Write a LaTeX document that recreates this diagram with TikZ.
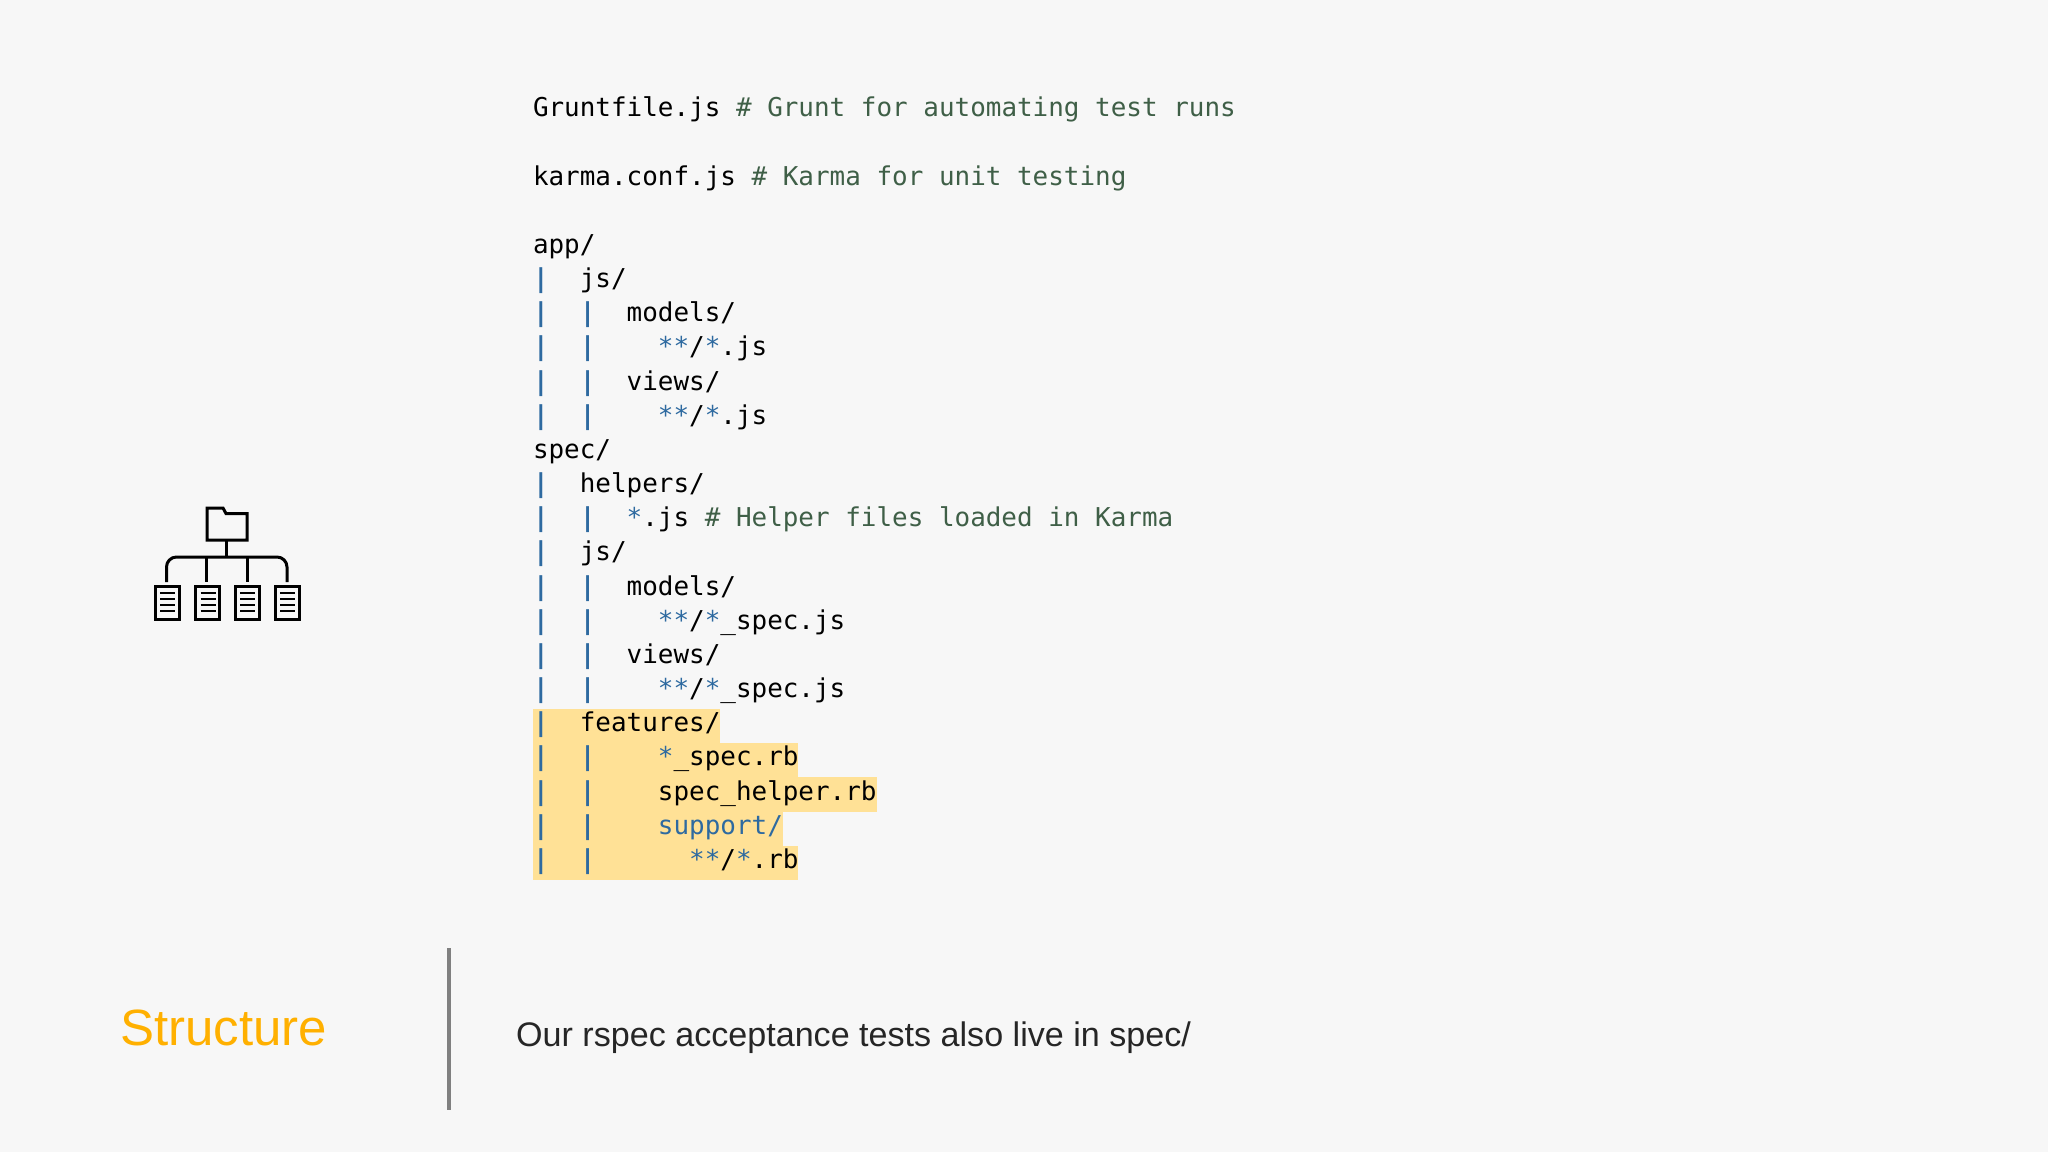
\documentclass[tikz,border=0pt]{standalone}
\usepackage{fontspec}
\setmainfont{Liberation Sans}
\setmonofont{DejaVu Sans Mono}
\definecolor{bgc}{HTML}{F7F7F7}
\definecolor{hl}{HTML}{FFE196}
\definecolor{bl}{HTML}{2E6AA0}
\definecolor{gr}{HTML}{3F5F47}
\definecolor{org}{HTML}{FFB000}
\definecolor{bar}{HTML}{808080}
\newcommand{\B}[1]{\textcolor{bl}{#1}}
\newcommand{\G}[1]{\textcolor{gr}{#1}}
\newcommand{\Bx}{\B{\bfseries|}}
\tikzset{
  codeline/.style={anchor=base west,inner sep=0pt,outer sep=0pt,text=black,
    font=\ttfamily\fontsize{25.94}{30}\selectfont},
  icon/.style={draw=black,line width=3pt,fill=none},
  iconthin/.style={draw=black,line width=2.7pt},
}
\newcommand{\cl}[2]{\node[codeline] (l#1) at (533,{116.8+34.16*#1}) {\strut #2};}
\newcommand{\docicon}[1]{
  \draw[icon] (#1,586) rectangle ++(24,33);
  \foreach \yy in {593,599,605,611} \draw[iconthin] ({#1+5},\yy) -- ++(15,0);
}
\begin{document}
\begin{tikzpicture}[x=1pt,y=-1pt]
\useasboundingbox (0,0) rectangle (2048,1152);
\fill[bgc] (0,0) rectangle (2048,1152);
% highlights
\fill[hl] (533,709) rectangle (720,743);
\fill[hl] (533,743) rectangle (798,777);
\fill[hl] (533,777) rectangle (877,811.5);
\fill[hl] (533,811.5) rectangle (783,846);
\fill[hl] (533,846) rectangle (798,880);
% code
\cl{0}{Gruntfile.js \G{\# Grunt for automating test runs}}
\cl{2}{karma.conf.js \G{\# Karma for unit testing}}
\cl{4}{app/}
\cl{5}{\Bx~~js/}
\cl{6}{\Bx~~\Bx~~models/}
\cl{7}{\Bx~~\Bx~~~~\B{**}/\B{*}.js}
\cl{8}{\Bx~~\Bx~~views/}
\cl{9}{\Bx~~\Bx~~~~\B{**}/\B{*}.js}
\cl{10}{spec/}
\cl{11}{\Bx~~helpers/}
\cl{12}{\Bx~~\Bx~~\B{*}.js \G{\# Helper files loaded in Karma}}
\cl{13}{\Bx~~js/}
\cl{14}{\Bx~~\Bx~~models/}
\cl{15}{\Bx~~\Bx~~~~\B{**}/\B{*}\_spec.js}
\cl{16}{\Bx~~\Bx~~views/}
\cl{17}{\Bx~~\Bx~~~~\B{**}/\B{*}\_spec.js}
\cl{18}{\Bx~~features/}
\cl{19}{\Bx~~\Bx~~~~\B{*}\_spec.rb}
\cl{20}{\Bx~~\Bx~~~~spec\_helper.rb}
\cl{21}{\Bx~~\Bx~~~~\B{support/}}
\cl{22}{\Bx~~\Bx~~~~~~\B{**}/\B{*}.rb}
% footer
\node[anchor=base west,inner sep=0pt,text=org,font=\fontsize{51}{56}\selectfont] (title) at (120,1045) {Structure};
\node[anchor=base west,inner sep=0pt,text=black!85,font=\fontsize{34.1}{40}\selectfont] (msg) at (516,1046) {Our rspec acceptance tests also live in spec/};
\draw[bar,line width=4pt] (449,948) -- (449,1110);
% icon
\draw[icon,line join=miter] (207,540) -- (207,508) -- (223,508) -- (226,513.5) -- (247,513.5) -- (247,540) -- cycle;
\draw[icon] (226,540) -- (226,557);
\draw[icon,rounded corners=10pt] (166.5,582) -- (166.5,557) -- (287,557) -- (287,582);
\draw[icon] (206.5,557) -- (206.5,582);
\draw[icon] (247,557) -- (247,582);
\docicon{155}
\docicon{195.5}
\docicon{235}
\docicon{275}
\end{tikzpicture}
\end{document}
